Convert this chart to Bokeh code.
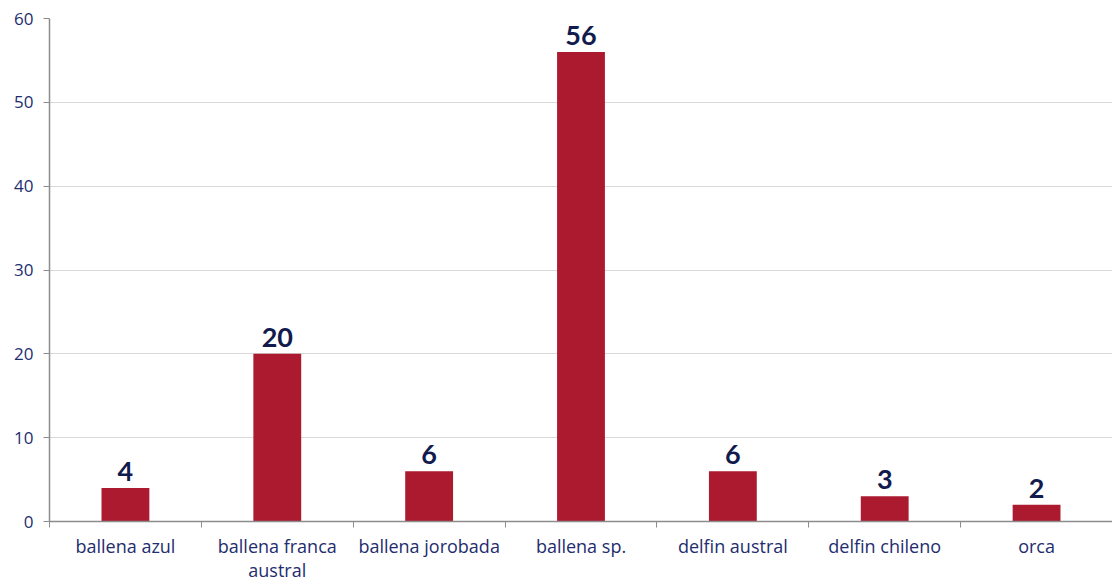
import numpy as np
from bokeh.plotting import figure
from bokeh.models import ColumnDataSource, FixedTicker, Range1d
from bokeh.core.properties import value
from bokeh.embed import file_html
from bokeh.resources import INLINE

categories = ["ballena azul", "ballena franca\naustral", "ballena jorobada", "ballena sp.",
              "delfin austral", "delfin chileno", "orca"]
counts = [4, 20, 6, 56, 6, 3, 2]
y_ticks = [0, 10, 20, 30, 40, 50, 60]

n = len(categories)
xs = np.arange(n) + 0.5
src = ColumnDataSource(dict(x=xs, y=counts, lbl=[str(c) for c in counts]))

p = figure(width=1112, height=584, output_backend="svg", toolbar_location=None,
           x_range=Range1d(0, n), y_range=Range1d(0, 60),
           min_border_left=49, min_border_right=0, min_border_top=18, min_border_bottom=40)
p.outline_line_color = None
p.background_fill_color = "white"

p.vbar(x="x", top="y", width=0.315, source=src, fill_color="#AB1A2F", line_color=None)
p.text(x="x", y="y", text="lbl", source=src, text_align="center", text_baseline="bottom",
       y_offset=-7, text_font=value("Lato"), text_font_style="bold", text_font_size="27px",
       text_color="#111B4E")

# x axis: labels at category centres, ticks at category boundaries
p.xaxis.ticker = FixedTicker(ticks=list(xs), minor_ticks=list(np.arange(n + 1)))
p.xaxis.major_label_overrides = {float(x): c for x, c in zip(xs, categories)}
p.xaxis.major_tick_line_color = None
p.xaxis.major_tick_out = 0
p.xaxis.minor_tick_in = 0
p.xaxis.minor_tick_out = 6
p.xaxis.minor_tick_line_color = "#8C8C8C"
p.xaxis.axis_line_color = "#8C8C8C"
p.xaxis.axis_line_width = 1.5
p.xaxis.major_label_text_font = "Open Sans"
p.xaxis.major_label_text_font_size = "18px"
p.xaxis.major_label_text_color = "#232D6E"
p.xaxis.major_label_text_line_height = 1.0
p.xaxis.major_label_standoff = 6

# y axis
p.yaxis.ticker = FixedTicker(ticks=y_ticks)
p.yaxis.minor_tick_line_color = None
p.yaxis.major_tick_in = 0
p.yaxis.major_tick_out = 6
p.yaxis.major_tick_line_color = "#8C8C8C"
p.yaxis.axis_line_color = "#8C8C8C"
p.yaxis.axis_line_width = 1.5
p.yaxis.major_label_text_font = "Open Sans"
p.yaxis.major_label_text_font_size = "17px"
p.yaxis.major_label_text_color = "#232D6E"
p.yaxis.major_label_standoff = 10

p.xgrid.grid_line_color = None
p.ygrid.grid_line_color = "#D9D9D9"
p.ygrid.grid_line_width = 1

open("out.html", "w").write(file_html(p, INLINE))
